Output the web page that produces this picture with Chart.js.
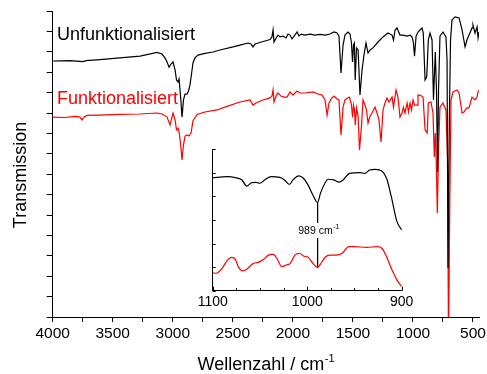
<!DOCTYPE html>
<html><head><meta charset="utf-8">
<script src="https://cdn.jsdelivr.net/npm/chart.js@4/dist/chart.umd.min.js"></script>
<style>
html,body{margin:0;padding:0;background:#fff;}
#wrap{position:relative;width:487px;height:374px;overflow:hidden;}
#main{position:absolute;left:0;top:0;}
#inset{position:absolute;left:180px;top:140px;}
</style></head><body>
<div id="wrap"><canvas id="main" width="487" height="374"></canvas><canvas id="inset" width="240" height="180"></canvas></div>
<script>
const FONT = "'Liberation Sans', Arial, sans-serif";

const seriesNames = ['Unfunktionalisiert', 'Funktionalisiert'];
const xAxisTitle = 'Wellenzahl / cm';
const xAxisTitleSup = '-1';
const yAxisTitle = 'Transmission';
const mainXLabeled = [4000, 3500, 3000, 2500, 2000, 1500, 1000, 500];
const insetXLabeled = [1100, 1000, 900];
const peakWavenumber = 989;
const peakLabel = '989 cm';
const peakLabelSup = '-1';

const blackWavenumber = [3997,3856,3748,3723,3606,3440,3273,3131,3090,3065,3048,3031,3015,2998,2981,2969,2956,2948,2936,2923,2911,2898,2882,2869,2857,2844,2832,2815,2790,2732,2665,2607,2498,2440,2374,2349,2332,2315,2290,2232,2190,2174,2165,2157,2140,2124,2107,2082,2057,2040,2024,2007,1990,1965,1949,1932,1899,1857,1816,1774,1732,1691,1657,1632,1616,1599,1582,1566,1541,1524,1512,1503,1495,1488,1481,1470,1457,1441,1424,1408,1391,1374,1357,1333,1291,1249,1208,1174,1162,1149,1133,1108,1083,1049,1024,1008,997,987,974,958,941,924,914,899,885,872,858,841,829,814,804,795,787,775,750,725,716,708,697,687,675,650,616,591,566,550,533,508,500,483,466,458,450];
const blackTransmission = [12.55,12.57,12.52,12.57,12.62,12.70,12.79,12.97,12.89,12.70,12.50,12.25,12.40,12.50,12.11,11.62,11.52,11.67,10.88,9.80,10.64,10.93,10.93,11.08,11.37,11.91,12.45,12.70,12.84,12.92,12.99,13.09,13.24,13.33,13.43,13.38,13.24,13.38,13.43,13.53,13.60,13.73,14.07,13.48,13.68,13.82,13.73,13.77,13.68,13.87,13.82,13.63,13.77,13.97,13.77,13.87,13.82,13.87,13.82,13.85,13.82,13.87,13.97,13.92,13.77,11.96,13.33,13.82,13.97,13.87,13.43,12.50,13.33,13.43,11.62,13.19,13.09,10.88,12.11,12.84,13.43,12.94,13.09,13.19,13.48,13.73,13.92,13.82,13.58,14.07,14.17,13.82,13.82,13.77,13.82,13.73,13.48,12.79,13.77,13.97,14.07,14.17,13.92,11.62,11.77,13.58,13.92,13.58,10.64,12.99,11.13,7.11,11.13,13.77,13.97,13.73,12.60,2.40,9.66,13.58,14.56,14.71,14.66,14.07,13.24,13.58,13.82,14.17,14.31,13.92,14.22,13.68,13.97];

const redWavenumber = [3997,3898,3814,3773,3756,3739,3714,3606,3440,3273,3131,3090,3048,3023,2998,2981,2969,2956,2946,2934,2923,2911,2898,2882,2865,2848,2832,2798,2732,2632,2566,2440,2357,2332,2307,2249,2190,2174,2165,2157,2140,2124,2099,2074,2049,2024,1999,1982,1965,1940,1899,1832,1791,1757,1732,1715,1699,1682,1657,1632,1616,1599,1582,1566,1545,1528,1512,1503,1495,1487,1480,1470,1457,1445,1428,1416,1399,1387,1374,1357,1341,1316,1299,1283,1266,1249,1233,1216,1199,1174,1162,1141,1124,1108,1091,1079,1066,1049,1037,1024,1012,999,987,966,958,941,916,899,881,872,850,833,822,814,808,797,787,775,750,725,712,704,693,683,666,633,616,591,575,550,533,508,500,483,466,458,450];
const redTransmission = [9.80,9.78,9.83,9.80,9.66,9.80,9.88,9.90,9.93,9.95,10.00,9.95,9.80,9.41,10.00,9.66,9.17,9.26,9.02,8.43,7.70,8.43,8.87,8.92,8.87,9.02,9.61,9.93,10.05,10.15,10.29,10.54,10.64,10.39,10.49,10.64,10.74,10.83,11.13,10.54,10.83,10.98,10.83,10.78,10.78,11.03,10.88,10.98,11.08,10.98,10.98,11.03,10.93,10.88,10.64,9.90,10.49,10.69,10.83,10.69,10.64,8.92,10.29,10.64,10.74,10.78,10.39,9.80,10.39,10.15,9.41,10.25,9.85,8.19,9.41,10.64,10.39,10.15,9.51,9.85,10.00,10.29,10.00,9.66,8.58,10.15,10.49,10.74,10.54,10.78,10.29,11.13,10.74,9.80,10.00,10.29,10.00,10.49,10.05,10.49,10.15,10.64,10.39,10.39,10.88,10.88,10.78,9.17,9.02,10.49,10.54,10.00,7.84,9.02,8.19,5.10,8.19,10.29,10.49,10.15,7.70,-1.13,5.74,10.64,11.03,11.13,10.98,10.00,10.05,10.25,10.25,10.78,10.78,10.64,10.78,11.03,11.13];

const insetBlackWavenumber = [1100,1085,1075,1069,1064,1059,1055,1050,1045,1038,1029,1024,1019,1015,1009,1004,999,994,989,986,981,978,972,966,962,955,944,939,934,928,921,916,911,905,900];
const insetBlackTransmission = [4.79,4.84,4.79,4.70,4.44,4.58,4.60,4.56,4.70,4.84,4.81,4.70,4.51,4.70,4.87,4.77,4.48,4.06,3.75,4.13,4.58,4.73,4.70,4.61,4.70,4.98,5.01,4.98,5.12,5.15,5.08,4.77,3.99,2.93,2.58];
const insetRedWavenumber = [1100,1096,1090,1085,1080,1076,1073,1068,1064,1057,1052,1046,1041,1036,1032,1027,1022,1018,1013,1008,1004,999,994,989,986,981,976,969,963,956,951,937,926,921,916,911,905,900];
const insetRedTransmission = [0.76,0.74,0.95,1.27,1.41,1.33,1.02,0.84,0.91,1.16,1.20,1.33,1.51,1.54,1.37,1.02,1.09,1.16,1.51,1.59,1.47,1.42,1.16,0.98,1.13,1.42,1.51,1.51,1.59,1.87,1.87,1.84,1.87,1.80,1.44,0.95,0.45,0.17];

const toXY = (xs, ys) => xs.map((x, i) => ({x: x, y: ys[i]}));

const mainTexts = {
  id: 'mainTexts',
  afterDraw(chart) {
    const ctx = chart.ctx;
    const a = chart.chartArea;
    ctx.save();
    ctx.textBaseline = 'alphabetic';
    ctx.textAlign = 'left';
    ctx.font = `18px ${FONT}`;
    ctx.fillStyle = '#000';
    ctx.fillText(seriesNames[0], 57, 40);
    ctx.fillStyle = '#ff0000';
    ctx.fillText(seriesNames[1], 57, 104);
    ctx.fillStyle = '#000';
    ctx.font = `18px ${FONT}`;
    const w1 = ctx.measureText(xAxisTitle).width;
    ctx.font = `11px ${FONT}`;
    const w2 = ctx.measureText(xAxisTitleSup).width;
    const cx = (a.left + a.right) / 2;
    const sx = cx - (w1 + w2) / 2;
    ctx.font = `18px ${FONT}`;
    ctx.fillText(xAxisTitle, sx, 370);
    ctx.font = `11px ${FONT}`;
    ctx.fillText(xAxisTitleSup, sx + w1 + 0.5, 362);
    ctx.font = `18px ${FONT}`;
    ctx.translate(26, 175);
    ctx.rotate(-Math.PI / 2);
    ctx.textAlign = 'center';
    ctx.fillText(yAxisTitle, 0, 0);
    ctx.restore();
  }
};

new Chart(document.getElementById('main'), {
  type: 'line',
  data: {
    datasets: [
      {label: seriesNames[0], data: toXY(blackWavenumber, blackTransmission), borderColor: '#000', borderWidth: 1.2, pointRadius: 0, tension: 0, fill: false},
      {label: seriesNames[1], data: toXY(redWavenumber, redTransmission), borderColor: '#ff0000', borderWidth: 1.2, pointRadius: 0, tension: 0, fill: false}
    ]
  },
  options: {
    responsive: false, animation: false, devicePixelRatio: 1,
    layout: {padding: {top: 11, right: 8, left: 0, bottom: 0}},
    plugins: {legend: {display: false}, tooltip: {enabled: false}},
    scales: {
      x: {
        type: 'linear', reverse: true, min: 450, max: 4000,
        afterBuildTicks: s => { const t = []; for (let v = 500; v <= 4000; v += 250) t.push({value: v}); s.ticks = t; },
        afterFit: s => { s.height = 57; s.paddingLeft = 0; s.paddingRight = 0; },
        ticks: {callback: v => mainXLabeled.includes(v) ? String(v) : '', color: '#000', font: {family: FONT, size: 15.5}, padding: 2, maxRotation: 0, autoSkip: false},
        grid: {display: true, drawOnChartArea: false, drawTicks: true, tickLength: 5, color: '#000', tickColor: '#000', lineWidth: 1},
        border: {display: true, color: '#000', width: 1}
      },
      y: {
        type: 'linear', min: 0, max: 15,
        ticks: {stepSize: 1, display: false},
        afterFit: s => { s.width = 52.7; s.paddingTop = 0; s.paddingBottom = 0; },
        grid: {display: true, drawOnChartArea: false, drawTicks: true, tickLength: 6, color: '#000', tickColor: '#000', lineWidth: 1},
        border: {display: true, color: '#000', width: 1}
      }
    }
  },
  plugins: [mainTexts]
});

const insetDecor = {
  id: 'insetDecor',
  afterDraw(chart) {
    const ctx = chart.ctx;
    const xs = chart.scales.x, ys = chart.scales.y;
    ctx.save();
    ctx.strokeStyle = '#000';
    ctx.lineWidth = 1;
    ctx.beginPath();
    for (const t of xs.ticks) {
      const px = Math.round(xs.getPixelForValue(t.value)) + 0.5;
      const len = insetXLabeled.includes(t.value) ? 4 : 2.5;
      ctx.moveTo(px, ys.bottom);
      ctx.lineTo(px, ys.bottom - len);
    }
    for (const t of ys.ticks) {
      const py = Math.round(ys.getPixelForValue(t.value)) + 0.5;
      ctx.moveTo(xs.left, py);
      ctx.lineTo(xs.left + 3, py);
    }
    ctx.stroke();
    const i1 = insetBlackWavenumber.indexOf(peakWavenumber);
    const i2 = insetRedWavenumber.indexOf(peakWavenumber);
    const px = xs.getPixelForValue(peakWavenumber);
    const yb = ys.getPixelForValue(insetBlackTransmission[i1]);
    const yr = ys.getPixelForValue(insetRedTransmission[i2]);
    const base = (yb + yr) / 2 - 1;
    ctx.font = `10.5px ${FONT}`;
    const w1 = ctx.measureText(peakLabel).width;
    ctx.font = `7px ${FONT}`;
    const w2 = ctx.measureText(peakLabelSup).width;
    const sx = px - (w1 + w2) / 2 + 1;
    ctx.fillStyle = '#fff';
    ctx.fillRect(sx - 2, base - 11, w1 + w2 + 4, 15);
    ctx.fillStyle = '#000';
    ctx.textAlign = 'left';
    ctx.textBaseline = 'alphabetic';
    ctx.font = `10.5px ${FONT}`;
    ctx.fillText(peakLabel, sx, base);
    ctx.font = `7px ${FONT}`;
    ctx.fillText(peakLabelSup, sx + w1 + 0.5, base - 5);
    ctx.restore();
  }
};

const iB = insetBlackWavenumber.indexOf(peakWavenumber);
const iR = insetRedWavenumber.indexOf(peakWavenumber);

new Chart(document.getElementById('inset'), {
  type: 'line',
  data: {
    datasets: [
      {data: toXY(insetBlackWavenumber, insetBlackTransmission), borderColor: '#000', borderWidth: 1.2, pointRadius: 0, cubicInterpolationMode: 'monotone', fill: false},
      {data: toXY(insetRedWavenumber, insetRedTransmission), borderColor: '#ff0000', borderWidth: 1.2, pointRadius: 0, cubicInterpolationMode: 'monotone', fill: false},
      {data: [{x: peakWavenumber, y: insetBlackTransmission[iB]}, {x: peakWavenumber, y: insetRedTransmission[iR]}], borderColor: '#000', borderWidth: 1, pointRadius: 0, tension: 0, fill: false}
    ]
  },
  options: {
    responsive: false, animation: false, devicePixelRatio: 1,
    layout: {padding: {top: 9.3, right: 18.3, left: 0, bottom: 0}},
    plugins: {legend: {display: false}, tooltip: {enabled: false}},
    scales: {
      x: {
        type: 'linear', reverse: true, min: 900, max: 1100,
        afterBuildTicks: s => { const t = []; for (let v = 900; v <= 1100; v += 25) t.push({value: v}); s.ticks = t; },
        afterFit: s => { s.height = 29.3; s.paddingLeft = 0; s.paddingRight = 0; },
        ticks: {callback: v => insetXLabeled.includes(v) ? String(v) : '', color: '#000', font: {family: FONT, size: 14}, padding: 3, maxRotation: 0, autoSkip: false},
        grid: {display: false, drawTicks: false},
        border: {display: true, color: '#000', width: 1}
      },
      y: {
        type: 'linear', min: 0, max: 6,
        ticks: {stepSize: 1, display: false},
        afterFit: s => { s.width = 32.7; s.paddingTop = 0; s.paddingBottom = 0; },
        grid: {display: false, drawTicks: false},
        border: {display: true, color: '#000', width: 1}
      }
    }
  },
  plugins: [insetDecor]
});
</script>
</body></html>
